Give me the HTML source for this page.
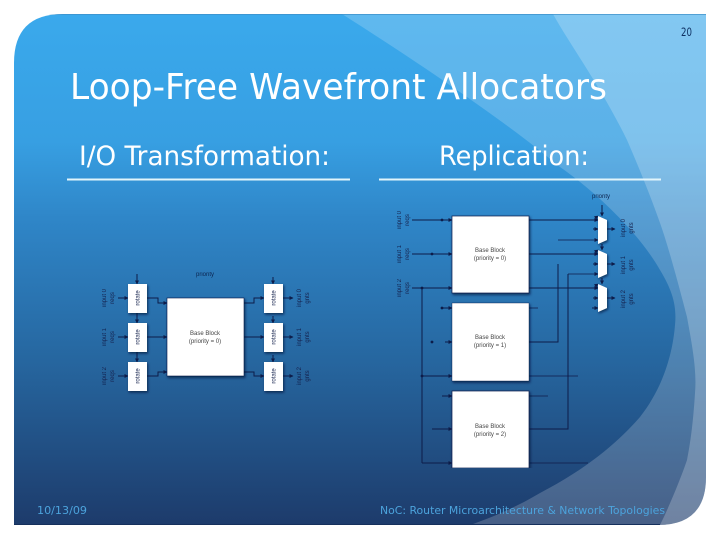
<!DOCTYPE html>
<html><head><meta charset="utf-8"><style>html,body{margin:0;padding:0;background:#fff}svg{display:block}text{font-family:"DejaVu Sans","Liberation Sans",sans-serif}.d text{font-family:"Liberation Sans",sans-serif}.d path{marker-end:url(#a)}.d path.n{marker-end:none}</style></head>
<body>
<svg xmlns="http://www.w3.org/2000/svg" width="720" height="540" viewBox="0 0 720 540">
<defs>
<linearGradient id="bg" x1="0" y1="14" x2="0" y2="525" gradientUnits="userSpaceOnUse">
<stop offset="0" stop-color="#3aa9ec"/><stop offset=".25" stop-color="#379fe2"/><stop offset=".4" stop-color="#2f86c8"/><stop offset=".68" stop-color="#26669f"/><stop offset="1" stop-color="#1d3b6b"/>
</linearGradient>
<clipPath id="slide"><path d="M14 63Q14 14 63 14H706V477Q706 525 658 525H14Z"/></clipPath>
<filter id="sh" x="-20%" y="-20%" width="140%" height="140%"><feDropShadow dx="1" dy="1.5" stdDeviation="1.2" flood-color="#001030" flood-opacity=".7"/></filter>
<filter id="soft" x="0" y="0" width="100%" height="100%"><feGaussianBlur stdDeviation=".35"/></filter>
<marker id="a" markerWidth="4" markerHeight="4" refX="3.500" refY="2" orient="auto" markerUnits="userSpaceOnUse"><path d="M0 0L4 2L0 4Z" fill="#0a1a4a"/></marker>
</defs>
<g clip-path="url(#slide)">
<rect x="14" y="14" width="692" height="511" fill="url(#bg)"/>
<path d="M342 14C430 70 510 125 560 167C600 195 640 235 660 270C672 290 677 305 675 325C673 350 665 385 640 417C620 440 590 467 540 493C515 508 490 518 470 525H720V14Z" fill="#fff" fill-opacity=".19"/>
<path d="M553 14C570 45 600 85 627 140C640 170 652 200 660 223C668 245 680 290 687 317C692 345 697 370 695 393C693 425 690 445 687 460C682 475 670 505 660 525H720V14Z" fill="#fff" fill-opacity=".22"/>
<rect x="14" y="14" width="692" height="1" fill="#3d8fc8" opacity=".7"/>
<rect x="14" y="524" width="646" height="1" fill="#15305c"/>
</g>

<text x="70" y="99" font-size="36" fill="#fff" textLength="537" lengthAdjust="spacingAndGlyphs">Loop-Free Wavefront Allocators</text>
<text x="79" y="165" font-size="27" fill="#fff" textLength="251" lengthAdjust="spacingAndGlyphs">I/O Transformation:</text>
<text x="439" y="165" font-size="27" fill="#fff" textLength="150" lengthAdjust="spacingAndGlyphs">Replication:</text>
<rect x="67" y="178.500" width="283" height="2" fill="#e2f5fb"/>
<rect x="379" y="178.500" width="282" height="2" fill="#e2f5fb"/>
<text x="681" y="36" font-size="11.500" fill="#0f3163" textLength="11" lengthAdjust="spacingAndGlyphs">20</text>
<text x="37" y="514" font-size="11" fill="#4ca3dc" textLength="50" lengthAdjust="spacingAndGlyphs">10/13/09</text>
<text x="380" y="514" font-size="11" fill="#4ca3dc" textLength="285" lengthAdjust="spacingAndGlyphs">NoC: Router Microarchitecture &amp; Network Topologies</text>

<g class="d" filter="url(#soft)">
<!-- Left diagram -->
<g fill="none" stroke="#0a1a4a" stroke-width="1">
<path d="M118 298H128"/><path d="M118 337H128"/><path d="M118 376H128"/>
<path d="M147 298H158V303H167"/><path d="M147 337H167"/><path d="M147 376H158V372H167"/>
<path d="M244 303H254V298H264"/><path d="M244 337H264"/><path d="M244 372H254V376H264"/>
<path d="M283 298H293"/><path d="M283 337H293"/><path d="M283 376H293"/>
<path d="M137 274V284"/><path d="M137 313V323"/><path d="M137 352V362"/>
<path d="M273 277V284"/><path d="M273 316V323"/><path d="M273 355V362"/>
</g>
<g fill="#fff" filter="url(#sh)">
<rect x="128" y="284" width="19" height="29"/><rect x="128" y="323" width="19" height="29"/><rect x="128" y="362" width="19" height="29"/>
<rect x="264" y="284" width="19" height="29"/><rect x="264" y="323" width="19" height="29"/><rect x="264" y="362" width="19" height="29"/>
<rect x="167" y="298" width="77" height="78" stroke="#0a1a4a" stroke-width=".6"/>
</g>
<g font-size="6" fill="#17244f" text-anchor="middle">
<text x="205" y="276" fill="#0c2550">priority</text>
<text x="205" y="335" fill="#444">Base Block</text>
<text x="205" y="343" fill="#444">(priority = 0)</text>
<text transform="translate(139.500,298) rotate(-90)">rotate</text>
<text transform="translate(139.500,337) rotate(-90)">rotate</text>
<text transform="translate(139.500,376) rotate(-90)">rotate</text>
<text transform="translate(275.500,298) rotate(-90)">rotate</text>
<text transform="translate(275.500,337) rotate(-90)">rotate</text>
<text transform="translate(275.500,376) rotate(-90)">rotate</text>
<text transform="translate(106,298) rotate(-90)">input 0</text><text transform="translate(114,298) rotate(-90)">reqs</text>
<text transform="translate(106,337) rotate(-90)">input 1</text><text transform="translate(114,337) rotate(-90)">reqs</text>
<text transform="translate(106,376) rotate(-90)">input 2</text><text transform="translate(114,376) rotate(-90)">reqs</text>
<text transform="translate(301,298) rotate(-90)">input 0</text><text transform="translate(309,298) rotate(-90)">gnts</text>
<text transform="translate(301,337) rotate(-90)">input 1</text><text transform="translate(309,337) rotate(-90)">gnts</text>
<text transform="translate(301,376) rotate(-90)">input 2</text><text transform="translate(309,376) rotate(-90)">gnts</text>
</g>

<!-- Right diagram -->
<g fill="none" stroke="#0a1a4a" stroke-width="1">
<path d="M412 220H452"/><path d="M412 254H452"/><path d="M412 288H452"/>
<path d="M442 308H452"/><path d="M445 342H452"/><path d="M422 376H452"/><path d="M442 396H452"/><path d="M432 429H452"/><path d="M422 463H452"/>
<path class="n" d="M422 288V463"/>
<path d="M529 220H598"/><path d="M529 254H598"/><path d="M529 288H598"/>
<path d="M593 229H598"/><path d="M558 240H598" stroke-width=".7"/><path d="M593 264H598"/><path d="M568 274H598" stroke-width=".7"/><path d="M593 298H598"/><path d="M592 308H598"/>
<path class="n" d="M529 342H558V264"/>
<path class="n" d="M529 429H568V274"/>
<path class="n" d="M529 308H538M529 376H578M529 396H548M529 463H588" stroke-width=".7"/>
<path d="M602 205V216"/><path d="M602 244V250"/><path d="M602 278V284"/>
<path d="M607 229H615"/><path d="M607 264H615"/><path d="M607 298H615"/>
</g>
<g fill="#0a1a4a"><circle cx="442" cy="220" r="1.400"/><circle cx="432" cy="254" r="1.400"/><circle cx="422" cy="288" r="1.400"/><circle cx="442" cy="308" r="1.400"/><circle cx="432" cy="342" r="1.400"/><circle cx="422" cy="376" r="1.400"/></g>
<g fill="#fff" filter="url(#sh)">
<rect x="452" y="216" width="77" height="77" stroke="#0a1a4a" stroke-width=".7"/>
<rect x="452" y="303" width="77" height="78" stroke="#0a1a4a" stroke-width=".4"/>
<rect x="452" y="391" width="77" height="77" stroke="#0a1a4a" stroke-width=".7"/>
<path d="M598 216L607 220V240L598 244Z"/><path d="M598 250L607 254V274L598 278Z"/><path d="M598 284L607 288V308L598 312Z"/>
</g>
<g font-size="6" fill="#17244f" text-anchor="middle">
<text x="601" y="198" fill="#0c2550">priority</text>
<text x="490" y="252" fill="#444">Base Block</text><text x="490" y="260" fill="#444">(priority = 0)</text>
<text x="490" y="339" fill="#444">Base Block</text><text x="490" y="347" fill="#444">(priority = 1)</text>
<text x="490" y="428" fill="#444">Base Block</text><text x="490" y="436" fill="#444">(priority = 2)</text>
<text transform="translate(401,220) rotate(-90)">input 0</text><text transform="translate(409,220) rotate(-90)">reqs</text>
<text transform="translate(401,254) rotate(-90)">input 1</text><text transform="translate(409,254) rotate(-90)">reqs</text>
<text transform="translate(401,288) rotate(-90)">input 2</text><text transform="translate(409,288) rotate(-90)">reqs</text>
<text transform="translate(625,228) rotate(-90)">input 0</text><text transform="translate(633,228) rotate(-90)">gnts</text>
<text transform="translate(625,265) rotate(-90)">input 1</text><text transform="translate(633,265) rotate(-90)">gnts</text>
<text transform="translate(625,299) rotate(-90)">input 2</text><text transform="translate(633,299) rotate(-90)">gnts</text>
</g>
</g>
</svg>
</body></html>
